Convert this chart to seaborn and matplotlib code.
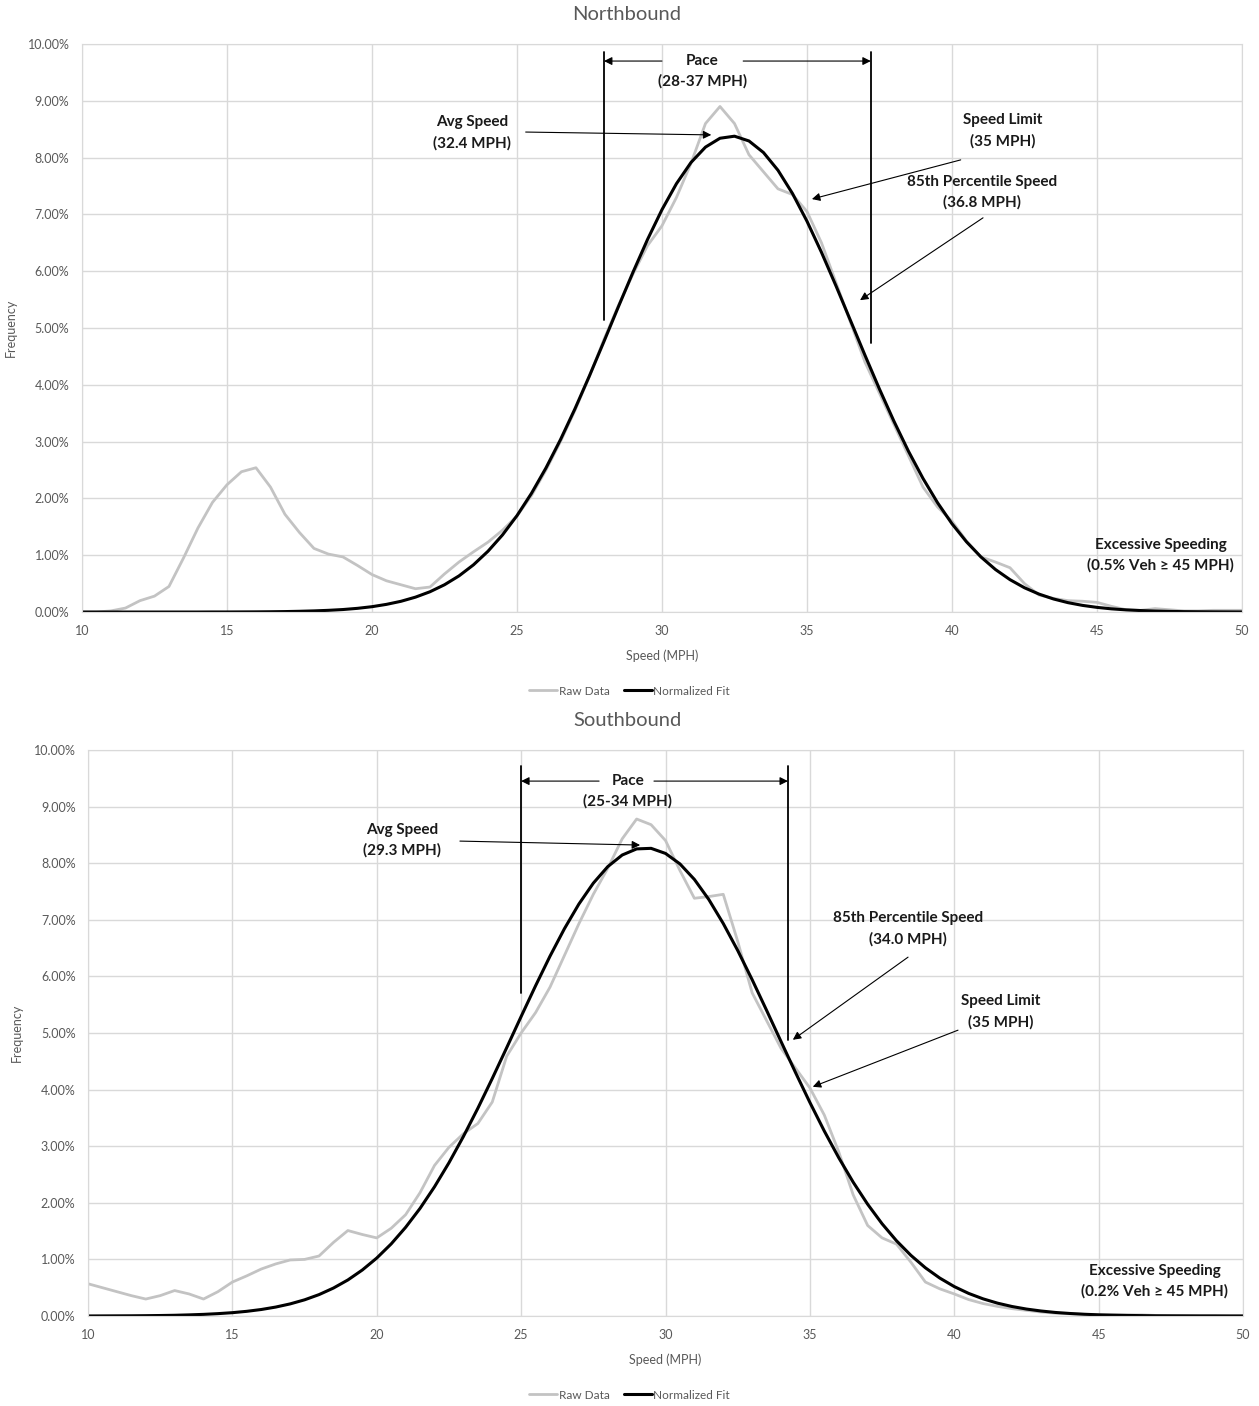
import matplotlib
matplotlib.use("Agg")
import matplotlib.pyplot as plt
from matplotlib.ticker import FuncFormatter
import seaborn as sns
import pandas as pd
import numpy as np

# speed grid (MPH), 0.5 MPH steps from 10 to 50
speed_mph = np.arange(10, 50.5, 0.5)

# values in percent
nb_raw = [0.00, 0.00, 0.02, 0.07, 0.20, 0.28, 0.45, 0.95, 1.48, 1.93,
          2.24, 2.47, 2.54, 2.20, 1.72, 1.40, 1.12, 1.02, 0.97, 0.82,
          0.66, 0.55, 0.48, 0.41, 0.44, 0.67, 0.88, 1.06, 1.23, 1.44,
          1.69, 2.05, 2.50, 3.00, 3.55, 4.15, 4.80, 5.40, 5.95, 6.45,
          6.80, 7.30, 7.90, 8.60, 8.90, 8.60, 8.05, 7.75, 7.45, 7.35,
          7.05, 6.50, 5.80, 5.10, 4.40, 3.85, 3.30, 2.75, 2.20, 1.85,
          1.60, 1.25, 0.97, 0.88, 0.78, 0.50, 0.30, 0.24, 0.20, 0.19,
          0.17, 0.10, 0.04, 0.03, 0.06, 0.04, 0.02, 0.02, 0.03, 0.03, 0.03]
nb_fit = [0.000, 0.000, 0.000, 0.000, 0.000, 0.000, 0.000, 0.000, 0.000, 0.001,
          0.001, 0.002, 0.003, 0.005, 0.008, 0.013, 0.020, 0.030, 0.044, 0.065,
          0.094, 0.135, 0.189, 0.262, 0.357, 0.480, 0.636, 0.831, 1.070, 1.357,
          1.697, 2.090, 2.537, 3.035, 3.579, 4.160, 4.764, 5.378, 5.982, 6.557,
          7.084, 7.542, 7.914, 8.185, 8.341, 8.377, 8.293, 8.089, 7.777, 7.368,
          6.880, 6.332, 5.742, 5.132, 4.520, 3.924, 3.357, 2.830, 2.352, 1.926,
          1.554, 1.236, 0.969, 0.748, 0.570, 0.427, 0.316, 0.230, 0.165, 0.117,
          0.082, 0.056, 0.038, 0.026, 0.017, 0.011, 0.007, 0.005, 0.003, 0.002, 0.001]

sb_raw = [0.57, 0.50, 0.43, 0.36, 0.30, 0.36, 0.45, 0.39, 0.30, 0.43,
          0.60, 0.71, 0.83, 0.92, 0.99, 1.00, 1.06, 1.30, 1.51, 1.44,
          1.38, 1.55, 1.79, 2.18, 2.66, 2.98, 3.22, 3.40, 3.78, 4.59,
          5.00, 5.36, 5.81, 6.37, 6.93, 7.45, 7.91, 8.43, 8.78, 8.68,
          8.40, 7.87, 7.38, 7.41, 7.45, 6.62, 5.71, 5.22, 4.73, 4.38,
          4.03, 3.55, 2.90, 2.14, 1.60, 1.38, 1.27, 0.95, 0.60, 0.48,
          0.39, 0.29, 0.22, 0.17, 0.13, 0.10, 0.07, 0.05, 0.04, 0.03,
          0.02, 0.02, 0.02, 0.02, 0.01, 0.01, 0.01, 0.01, 0.01, 0.01, 0.01]
sb_fit = [0.001, 0.002, 0.003, 0.004, 0.006, 0.009, 0.013, 0.020, 0.029, 0.042,
          0.059, 0.083, 0.115, 0.158, 0.214, 0.286, 0.378, 0.494, 0.637, 0.813,
          1.024, 1.274, 1.567, 1.902, 2.283, 2.707, 3.171, 3.669, 4.196, 4.740,
          5.291, 5.834, 6.357, 6.843, 7.278, 7.647, 7.939, 8.144, 8.252, 8.262,
          8.172, 7.987, 7.713, 7.358, 6.934, 6.458, 5.942, 5.401, 4.850, 4.304,
          3.773, 3.267, 2.796, 2.364, 1.975, 1.630, 1.329, 1.071, 0.852, 0.670,
          0.520, 0.399, 0.303, 0.227, 0.168, 0.123, 0.089, 0.063, 0.045, 0.031,
          0.021, 0.015, 0.010, 0.007, 0.004, 0.003, 0.002, 0.001, 0.001, 0.000, 0.000]

x_ticks = [10, 15, 20, 25, 30, 35, 40, 45, 50]
y_ticks = [0, 1, 2, 3, 4, 5, 6, 7, 8, 9, 10]

GREY_TXT = "#595959"
GRID = "#d9d9d9"
RAW_C = "#c3c3c3"

sns.set_style("white")
plt.rcParams["font.family"] = ["Lato", "DejaVu Sans"]

fig = plt.figure(figsize=(12.59, 14.06), dpi=100)
ax_n = fig.add_axes([0.0651, 0.5647, 0.9214, 0.404])
ax_s = fig.add_axes([0.0699, 0.0640, 0.9174, 0.4026])


def draw_panel(ax, raw, fit):
    df = pd.DataFrame({"speed": speed_mph, "Raw Data": raw, "Normalized Fit": fit})
    sns.lineplot(data=df, x="speed", y="Raw Data", ax=ax, color=RAW_C, lw=2.0,
                 solid_joinstyle="round", label="Raw Data")
    sns.lineplot(data=df, x="speed", y="Normalized Fit", ax=ax, color="black", lw=2.2,
                 solid_joinstyle="round", label="Normalized Fit")
    ax.set_xlim(10, 50)
    ax.set_ylim(0, 10)
    ax.set_xticks(x_ticks)
    ax.set_yticks(y_ticks)
    ax.yaxis.set_major_formatter(FuncFormatter(lambda v, p: f"{v:.2f}%"))
    ax.grid(True, color=GRID, lw=1)
    ax.set_axisbelow(True)
    for sp in ax.spines.values():
        sp.set_color(GRID)
    ax.tick_params(axis="both", length=0, labelsize=9, labelcolor=GREY_TXT, pad=9)
    ax.set_xlabel("Speed (MPH)", fontsize=9, color=GREY_TXT, labelpad=9)
    ax.set_ylabel("Frequency", fontsize=9, color=GREY_TXT, labelpad=8)
    ax.get_legend().remove()


draw_panel(ax_n, nb_raw, nb_fit)
draw_panel(ax_s, sb_raw, sb_fit)

# titles centred on the figure
fig.text(0.4977, 1 - 14 / 1406, "Northbound", fontsize=14.5, color=GREY_TXT, ha="center", va="center")
fig.text(0.4985, 1 - 720 / 1406, "Southbound", fontsize=14.5, color=GREY_TXT, ha="center", va="center")

bold = dict(fontsize=11, fontweight="bold", ha="center", va="center", color="#1a1a1a")
arr = dict(arrowstyle="-|>", color="black", lw=0.8, mutation_scale=12, shrinkA=0, shrinkB=0)


def pace(ax, lo, hi, lo_bot, hi_bot, top, y_arrow, x_text, label, x_from_l, x_from_r):
    ax.plot([lo, lo], [lo_bot, top], color="black", lw=1.3)
    ax.plot([hi, hi], [hi_bot, top], color="black", lw=1.3)
    ax.annotate("", xy=(lo, y_arrow), xytext=(x_from_l, y_arrow), arrowprops=arr)
    ax.annotate("", xy=(hi, y_arrow), xytext=(x_from_r, y_arrow), arrowprops=arr)
    ax.text(x_text, y_arrow, "Pace", **bold)
    ax.text(x_text, y_arrow - 0.35, label, **bold)


# Northbound annotations
pace(ax_n, 28.0, 37.2, 5.14, 4.74, 9.86, 9.70, 31.4, "(28-37 MPH)", 30.0, 32.8)
ax_n.text(23.45, 8.63, "Avg Speed", **bold)
ax_n.text(23.45, 8.26, "(32.4 MPH)", **bold)
ax_n.annotate("", xy=(31.7, 8.40), xytext=(25.3, 8.45), arrowprops=arr)
ax_n.text(41.76, 8.66, "Speed Limit", **bold)
ax_n.text(41.76, 8.29, "(35 MPH)", **bold)
ax_n.annotate("", xy=(35.17, 7.27), xytext=(40.3, 7.96), arrowprops=arr)
ax_n.text(41.03, 7.57, "85th Percentile Speed", **bold)
ax_n.text(41.03, 7.22, "(36.8 MPH)", **bold)
ax_n.annotate("", xy=(36.83, 5.49), xytext=(41.07, 6.94), arrowprops=arr)
ax_n.text(47.2, 1.18, "Excessive Speeding", **bold)
ax_n.text(47.2, 0.83, "(0.5% Veh \u2265 45 MPH)", **bold)

# Southbound annotations
pace(ax_s, 25.0, 34.24, 5.71, 4.88, 9.72, 9.45, 28.7, "(25-34 MPH)", 27.7, 29.6)
ax_s.text(20.87, 8.59, "Avg Speed", **bold)
ax_s.text(20.87, 8.22, "(29.3 MPH)", **bold)
ax_s.annotate("", xy=(29.12, 8.32), xytext=(22.88, 8.39), arrowprops=arr)
ax_s.text(38.4, 7.03, "85th Percentile Speed", **bold)
ax_s.text(38.4, 6.66, "(34.0 MPH)", **bold)
ax_s.annotate("", xy=(34.41, 4.88), xytext=(38.4, 6.34), arrowprops=arr)
ax_s.text(41.62, 5.57, "Speed Limit", **bold)
ax_s.text(41.62, 5.19, "(35 MPH)", **bold)
ax_s.annotate("", xy=(35.1, 4.05), xytext=(40.13, 5.05), arrowprops=arr)
ax_s.text(46.95, 0.80, "Excessive Speeding", **bold)
ax_s.text(46.95, 0.44, "(0.2% Veh \u2265 45 MPH)", **bold)

# legends below each panel
handles = [plt.Line2D([], [], color=RAW_C, lw=2.0), plt.Line2D([], [], color="black", lw=2.2)]
for ypos in (0.5085, 0.0078):
    fig.legend(handles, ["Raw Data", "Normalized Fit"], loc="center", bbox_to_anchor=(0.5, ypos),
               ncol=2, frameon=False, fontsize=8.5, labelcolor=GREY_TXT,
               handlelength=2.4, handletextpad=0.1, columnspacing=1.2)

fig.savefig("out.png", dpi=100)
plt.close(fig)
